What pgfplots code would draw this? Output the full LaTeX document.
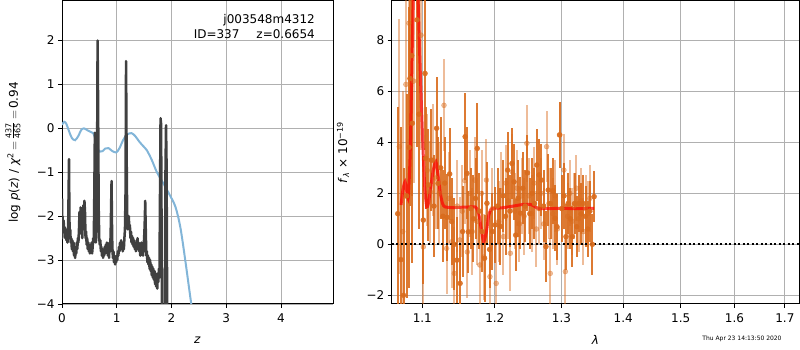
\documentclass[border=0pt]{standalone}
\usepackage{fontspec}
\setmainfont{DejaVu Sans}
\usepackage{pgfplots}
\pgfplotsset{compat=1.18}
\definecolor{pzblack}{HTML}{404040}
\definecolor{pzblue}{HTML}{82B5D8}
\definecolor{dorange}{HTML}{D96B1C}
\definecolor{gridgray}{HTML}{B0B0B0}
\pgfplotsset{
  myax/.style={
    scale only axis, height=303pt,
    axis line style={line width=1pt, black},
    grid=major, major grid style={gridgray, line width=0.8pt},
    tick align=outside, major tick length=4pt,
    tick style={black, line width=0.8pt},
    xtick pos=bottom, ytick pos=left,
    /pgf/number format/assume math mode=true,
    tick label style={font=\fontsize{12}{14}\selectfont},
    xticklabel style={yshift=-2pt},
    label style={font=\fontsize{12}{14}\selectfont},
    minor tick num=0,
  }
}
\begin{document}
\begin{tikzpicture}
\useasboundingbox (0pt,0pt) rectangle (800pt,350pt);
% ---------------- left: p(z)
\begin{axis}[myax, at={(62pt,46pt)}, anchor=south west, width=271pt,
  xmin=0, xmax=4.95, ymin=-4, ymax=2.9,
  xtick={0,1,2,3,4}, xticklabels={0,1,2,3,4},
  ytick={-4,-3,-2,-1,0,1,2}, yticklabels={−4,−3,−2,−1,0,1,2},
  xlabel={\textit{z}},
  xlabel style={at={(axis description cs:0.5,-0.119)}, anchor=center},
  ylabel={log \textit{p}(\textit{z}) / \textit{χ}\textsuperscript{2}$\,=\,$\raisebox{0.25ex}{$\frac{\mbox{\fontsize{8}{9}\selectfont 437}}{\mbox{\fontsize{8}{9}\selectfont 465}}$}$\,=\,$0.94},
  ylabel style={at={(axis description cs:-0.181,0.5)}, anchor=center},
]
\addplot[pzblue, line width=2pt, smooth] coordinates {
(0.00,0.08) (0.04,0.15) (0.08,0.10) (0.13,-0.07) (0.18,-0.22) (0.24,-0.27)
(0.30,-0.17) (0.35,-0.04) (0.40,0.00) (0.46,-0.04) (0.52,-0.08) (0.57,-0.11)
(0.61,-0.25) (0.65,-0.45) (0.69,-0.53) (0.74,-0.52) (0.79,-0.46) (0.85,-0.45)
(0.91,-0.51) (0.99,-0.55) (1.05,-0.45) (1.12,-0.26) (1.19,-0.14) (1.27,-0.11)
(1.34,-0.18) (1.41,-0.30) (1.48,-0.40) (1.55,-0.50) (1.64,-0.72) (1.73,-0.99)
(1.85,-1.25) (1.96,-1.50) (2.07,-1.78) (2.16,-2.24) (2.25,-2.99) (2.35,-3.90)
(2.40,-4.30)
};
\addplot[pzblack, line width=2.5pt, line join=round] coordinates {
(0.000,-1.6) (0.003,-2.5) (0.01,-2.0) (0.02,-2.2) (0.03,-2.1) (0.04,-2.35)
(0.05,-2.25) (0.06,-2.5) (0.07,-2.3) (0.08,-2.55) (0.09,-2.4) (0.10,-2.6)
(0.11,-2.45) (0.12,-1.5) (0.128,-0.7) (0.135,-1.9) (0.14,-2.5) (0.15,-2.3)
(0.16,-2.6) (0.17,-2.5) (0.18,-2.75) (0.19,-2.55) (0.20,-2.8) (0.21,-2.6)
(0.22,-2.9) (0.23,-2.7) (0.24,-2.95) (0.25,-2.75) (0.26,-2.85) (0.27,-2.6)
(0.28,-2.75) (0.29,-2.5) (0.30,-2.6) (0.31,-2.3) (0.32,-1.9) (0.33,-2.2)
(0.34,-1.8) (0.35,-2.4) (0.36,-1.95) (0.37,-2.5) (0.38,-2.1) (0.39,-1.75)
(0.40,-2.2) (0.41,-1.65) (0.42,-1.9) (0.43,-2.5) (0.44,-2.35) (0.45,-2.65)
(0.46,-2.5) (0.47,-2.75) (0.48,-2.6) (0.49,-2.8) (0.50,-2.65) (0.51,-2.85)
(0.52,-2.7) (0.53,-2.8) (0.54,-2.6) (0.55,-2.85) (0.56,-2.7) (0.57,-2.5)
(0.58,-2.6) (0.59,-1.5) (0.60,-0.1) (0.61,-1.8) (0.62,-2.6) (0.63,-2.2)
(0.64,-1.0) (0.65,2.0) (0.66,0.5) (0.67,-1.8) (0.68,-2.5) (0.69,-2.65)
(0.70,-2.55) (0.71,-2.8) (0.72,-2.7) (0.73,-2.9) (0.74,-2.75) (0.75,-2.95)
(0.76,-2.8) (0.77,-2.9) (0.78,-2.7) (0.79,-2.85) (0.80,-2.65) (0.81,-2.8)
(0.82,-2.6) (0.83,-2.75) (0.84,-2.9) (0.85,-2.7) (0.86,-2.95) (0.87,-2.6)
(0.88,-2.8) (0.89,-2.3) (0.905,-1.2) (0.915,-2.4) (0.92,-2.7) (0.93,-2.95)
(0.94,-2.8) (0.95,-3.05) (0.96,-2.9) (0.97,-3.1) (0.98,-2.95) (0.99,-3.05)
(1.00,-2.9) (1.01,-3.0) (1.02,-2.8) (1.03,-2.9) (1.04,-2.7) (1.05,-2.8)
(1.06,-2.6) (1.07,-2.75) (1.08,-2.55) (1.09,-2.7) (1.10,-2.6) (1.11,-2.8)
(1.12,-2.65) (1.13,-2.75) (1.14,-2.5) (1.15,-2.3) (1.16,-1.5) (1.17,1.53)
(1.18,-0.5) (1.19,-1.9) (1.20,-2.3) (1.21,-2.1) (1.22,-2.0) (1.23,-2.3)
(1.24,-2.2) (1.25,-2.5) (1.26,-2.35) (1.27,-2.6) (1.28,-2.45) (1.29,-2.65)
(1.30,-2.5) (1.31,-2.7) (1.32,-2.55) (1.33,-2.75) (1.34,-2.6) (1.35,-2.8)
(1.36,-2.65) (1.37,-2.7) (1.38,-2.5) (1.39,-2.75) (1.40,-2.6) (1.41,-2.8)
(1.42,-2.7) (1.43,-2.9) (1.44,-2.75) (1.45,-2.6) (1.46,-2.8) (1.47,-2.65)
(1.48,-2.9) (1.49,-2.7) (1.50,-2.5) (1.51,-2.2) (1.52,-1.65) (1.53,-2.3)
(1.54,-2.9) (1.55,-2.8) (1.56,-3.05) (1.57,-2.9) (1.58,-3.1) (1.59,-2.95)
(1.60,-3.2) (1.61,-3.0) (1.62,-3.25) (1.63,-3.1) (1.64,-3.35) (1.65,-3.15)
(1.66,-3.4) (1.67,-3.2) (1.68,-3.45) (1.69,-3.25) (1.70,-3.55) (1.71,-3.3)
(1.72,-3.6) (1.73,-3.4) (1.74,-3.65) (1.75,-3.3) (1.76,-3.5) (1.77,-3.2)
(1.78,-3.4) (1.79,-1.5) (1.80,0.23) (1.81,0.1) (1.82,-2.5) (1.83,-6)
(1.84,-7) (1.85,-5) (1.86,-4.5) (1.87,-6) (1.88,-3.5) (1.89,-1.0)
(1.90,0.07) (1.91,-0.8) (1.92,-3.8) (1.93,-8) (1.95,-12)
};
\node[anchor=east, font=\fontsize{12}{14}\selectfont] at (rel axis cs:0.946,0.937) {j003548m4312};
\node[anchor=east, font=\fontsize{12}{14}\selectfont] at (rel axis cs:0.946,0.890) {ID=337\hspace{17pt}z=0.6654};
\end{axis}
% ---------------- right: spectrum
\begin{axis}[myax, at={(391.7pt,46pt)}, anchor=south west, width=407.3pt,
  xmode=log, xmin=1.0603, xmax=1.729, ymin=-2.34, ymax=9.54,
  xtick={1.1,1.2,1.3,1.4,1.5,1.6,1.7},
  xticklabels={1.1,1.2,1.3,1.4,1.5,1.6,1.7},
  minor xtick={},
  ytick={-2,0,2,4,6,8}, yticklabels={−2,0,2,4,6,8},
  xlabel={\textit{λ}},
  xlabel style={at={(axis description cs:0.5,-0.119)}, anchor=center},
  ylabel={\textit{f}\textsubscript{\textit{λ}} × 10\textsuperscript{−19}},
  ylabel style={at={(axis description cs:-0.1196,0.5)}, anchor=center},
]
% light points
\addplot[only marks, mark=*, mark size=2.5pt, draw=none,
  color=dorange, opacity=0.45,
  error bars/.cd, y dir=both, y explicit,
  error bar style={line width=2pt, dorange}, error mark=none]
table[x=x, y=y, y error=e] {
x y e
1.070 3.83 5.0
1.0745 0.5 5.5
1.0785 6.27 4.5
1.0825 8.67 4.0
1.0885 6.4 4.0
1.0983 8.2 4.5
1.1013 -0.1 2.5
1.1065 2.9 2.2
1.1105 2.06 2.0
1.1145 3.3 2.2
1.118 2.6 2.0
1.1225 2.0 2.0
1.129 5.45 1.8
1.1325 -0.16 1.8
1.1355 1.8 1.8
1.1395 0.1 1.8
1.143 -1.14 1.8
1.147 1.5 1.8
1.1505 0.17 1.7
1.154 1.3 1.8
1.1575 2.5 1.7
1.161 -0.3 1.8
1.1645 2.0 1.7
1.168 0.5 1.7
1.1715 2.52 1.7
1.175 0.9 1.7
1.1785 -0.81 1.7
1.181 2.0 1.7
1.1845 -0.5 1.7
1.188 2.52 1.6
1.193 -1.27 1.6
1.1965 1.4 1.6
1.202 -1.53 1.6
1.2055 0.89 1.6
1.209 2.1 1.5
1.2125 0.3 1.5
1.216 2.4 1.5
1.2195 1.7 1.5
1.2225 -0.35 1.5
1.2255 2.84 1.5
1.229 1.3 1.5
1.2325 2.2 1.5
1.236 0.8 1.5
1.2395 1.9 1.5
1.243 1.1 1.5
1.247 3.96 1.5
1.2505 1.9 1.5
1.2545 1.2 1.5
1.258 2.4 1.4
1.2615 0.6 1.5
1.265 1.4 1.4
1.2685 2.0 1.4
1.2725 0.8 1.4
1.277 3.83 1.4
1.2805 1.6 1.4
1.2826 -1.14 1.4
1.2865 1.2 1.4
1.290 1.9 1.4
1.2935 0.6 1.4
1.2975 4.29 1.3
1.3037 2.91 1.4
1.306 -1.07 1.3
1.3095 1.1 1.3
1.313 2.0 1.3
1.3165 0.9 1.3
1.320 1.5 1.3
1.3235 2.2 1.3
1.327 1.0 1.3
1.331 1.7 1.3
1.3345 0.5 1.3
1.338 1.4 1.3
1.3415 1.2 1.3
1.345 1.8 1.3
};
% dark points
\addplot[only marks, mark=*, mark size=2.5pt, draw=none,
  color=dorange, opacity=0.9,
  error bars/.cd, y dir=both, y explicit,
  error bar style={line width=2pt, dorange}, error mark=none]
table[x=x, y=y, y error=e] {
x y e
1.068 1.2 4.2
1.072 -0.6 5.2
1.0755 -2.0 5.0
1.0795 1.9 4.0
1.0825 3.8 5.5
1.0838 6.5 5.0
1.0861 7.4 5.5
1.0869 4.75 5.5
1.0930 8.8 5.0
1.0956 5.1 4.5
1.1013 0.95 2.5
1.1036 6.7 3.0
1.1045 3.37 2.0
1.108 2.33 2.2
1.112 3.3 2.0
1.1155 1.5 2.0
1.119 4.55 2.0
1.121 2.39 1.8
1.1245 3.0 2.0
1.1275 1.1 1.8
1.130 2.4 1.8
1.133 1.06 1.7
1.1367 2.76 1.8
1.1395 0.89 1.7
1.143 0.0 1.8
1.1465 -0.62 1.7
1.151 -1.53 1.6
1.1545 0.5 1.8
1.158 4.22 1.7
1.1605 2.78 1.8
1.1625 0.49 1.6
1.166 1.4 1.6
1.1695 1.0 1.7
1.1725 1.8 1.6
1.1749 3.76 1.8
1.178 1.3 1.5
1.1815 0.5 1.6
1.1853 -0.55 1.7
1.1887 1.61 1.6
1.1925 -0.2 1.5
1.1965 0.5 1.5
1.2005 0.76 1.5
1.204 1.5 1.5
1.208 0.7 1.5
1.212 1.9 1.4
1.2155 1.1 1.5
1.2186 2.91 1.5
1.222 1.3 1.4
1.225 3.17 1.4
1.228 2.45 1.5
1.2305 0.36 1.4
1.234 1.8 1.5
1.2375 1.22 1.4
1.241 2.2 1.4
1.2445 1.5 1.4
1.248 2.8 1.5
1.2515 1.2 1.4
1.255 2.0 1.4
1.2585 1.6 1.4
1.262 3.11 1.4
1.2655 2.72 1.4
1.269 2.52 1.4
1.2725 1.5 1.4
1.276 -0.09 1.4
1.2795 2.13 1.4
1.283 1.6 1.4
1.2865 2.1 1.3
1.290 1.02 1.3
1.293 0.69 1.3
1.297 4.29 1.3
1.3005 1.4 1.3
1.304 1.9 1.3
1.307 0.3 1.3
1.3105 1.6 1.2
1.314 1.0 1.2
1.317 0.3 1.2
1.3205 1.6 1.2
1.324 0.69 1.2
1.3275 1.6 1.1
1.331 1.19 1.2
1.3345 1.6 1.1
1.338 1.1 1.2
1.3415 0.6 1.1
1.345 1.3 1.2
1.349 0.0 1.2
1.352 1.87 1.0
};
\addplot[red, opacity=0.7, line width=3pt, smooth, tension=0.4] coordinates {
(1.0722,1.54) (1.0745,2.1) (1.0774,2.45) (1.0800,2.0) (1.0817,1.87)
(1.0840,3.5) (1.0860,6.5) (1.0880,9.5) (1.0900,11.0) (1.0917,11.5)
(1.0940,10.0) (1.0965,7.5) (1.0992,5.1) (1.1015,3.3) (1.1035,2.1)
(1.1058,1.47) (1.108,1.6) (1.111,2.2) (1.1145,2.9) (1.118,3.24)
(1.121,2.7) (1.124,2.0) (1.127,1.6) (1.130,1.47) (1.140,1.44)
(1.150,1.45) (1.160,1.46) (1.168,1.47) (1.173,1.45) (1.177,1.2)
(1.180,0.7) (1.184,0.1) (1.188,0.5) (1.191,1.1) (1.194,1.35)
(1.197,1.41) (1.210,1.43) (1.225,1.49) (1.243,1.57) (1.253,1.56)
(1.258,1.50) (1.264,1.41) (1.28,1.40) (1.30,1.41) (1.32,1.40) (1.352,1.41)
};
\addplot[black, line width=2pt, dash pattern=on 2pt off 2.5pt] coordinates {(1.0603,0) (1.729,0)};
\end{axis}
\node[font=\fontsize{6}{7}\selectfont] at (742pt,11pt) {Thu Apr 23 14:13:50 2020};
\end{tikzpicture}
\end{document}
